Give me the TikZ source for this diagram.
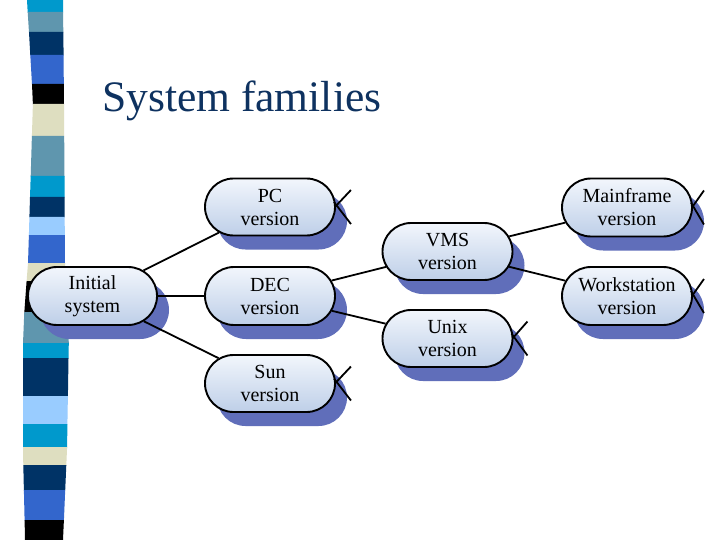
\documentclass[tikz,border=0pt]{standalone}
\usepackage{fontspec}
\setmainfont{Liberation Serif}
\usetikzlibrary{shapes.misc,shadows}
\definecolor{scyan}{RGB}{0,153,204}
\definecolor{ssteel}{RGB}{95,150,174}
\definecolor{snavy}{RGB}{0,51,102}
\definecolor{sroyal}{RGB}{51,102,204}
\definecolor{sbeige}{RGB}{222,222,192}
\definecolor{slight}{RGB}{153,204,255}
\definecolor{titleblue}{RGB}{14,50,96}
\definecolor{shadowblue}{RGB}{96,110,186}
\definecolor{filltop}{RGB}{242,246,252}
\definecolor{fillbot}{RGB}{190,207,232}
\tikzset{
  famnode/.style={rounded rectangle, draw=black, line width=1.9pt,
    minimum width=130pt, minimum height=57pt, inner sep=0pt,
    top color=filltop, bottom color=fillbot, align=center,
    font=\fontsize{20}{23}\selectfont,
    drop shadow={shadow xshift=12pt, shadow yshift=-14pt, fill=shadowblue, opacity=1}},
  link/.style={line width=1.8pt, black},
}
\begin{document}
\begin{tikzpicture}[x=1pt,y=-1pt]
\useasboundingbox (0,0) rectangle (720,540);
\fill[white] (0,0) rectangle (720,540);
% stripe: left/right edge points at boundaries
\def\blk#1#2#3#4#5#6#7{\fill[#1] (#4,#2) -- (#5,#2) -- (#7,#3) -- (#6,#3) -- cycle;}
\blk{scyan}{0}{12.5}{27}{63}{27.7}{63.1}
\blk{ssteel}{12}{32.5}{27.7}{63.1}{29}{63.3}
\blk{snavy}{32}{55.5}{29}{63.3}{30.3}{63.6}
\blk{sroyal}{55}{84.5}{30.3}{63.6}{32}{63.8}
\blk{black}{84}{104.5}{32}{63.8}{32.9}{64}
\blk{sbeige}{104}{136.5}{32.9}{64}{31.9}{64.2}
\blk{ssteel}{136}{176.5}{31.9}{64.2}{30.7}{64.5}
\blk{scyan}{176}{197.5}{30.7}{64.5}{30}{64.6}
\blk{snavy}{197}{217.5}{30}{64.6}{29.4}{64.7}
\blk{slight}{217}{235.5}{29.4}{64.7}{28.9}{64.8}
\blk{sroyal}{235}{263.5}{28.9}{64.8}{28}{65}
\blk{sbeige}{263}{281.5}{28}{65}{26.6}{66}
\blk{black}{281}{312.5}{26.6}{66}{24.3}{67.9}
\blk{ssteel}{312}{343.5}{24.3}{67.9}{23}{68.8}
\blk{scyan}{343}{358.5}{23}{68.8}{23}{68.5}
\blk{snavy}{358}{396.5}{23}{68.5}{23}{67.9}
\blk{slight}{396}{424.5}{23}{67.9}{23}{67.4}
\blk{scyan}{424}{447.5}{23}{67.4}{23}{67.1}
\blk{sbeige}{447}{465.5}{23}{67.1}{23.3}{66.3}
\blk{snavy}{465}{490.5}{23.3}{66.3}{23.9}{65.2}
\blk{sroyal}{490}{520.5}{23.9}{65.2}{24.6}{63.9}
\blk{black}{520}{540}{24.6}{63.9}{25}{63}
% title
\node[anchor=base west, inner sep=0pt, text=titleblue,
      font=\fontsize{43.5}{50}\selectfont] (title) at (102,112) {System families};
% nodes
\node[famnode, minimum width=129pt, minimum height=58pt] (init) at (92.5,296) {Initial\\system};
\node[famnode] (pc) at (270,207) {PC\\version};
\node[famnode, minimum height=58pt] (dec) at (270,296) {DEC\\version};
\node[famnode] (sun) at (270,383.5) {Sun\\version};
\node[famnode] (vms) at (447.5,251.5) {VMS\\version};
\node[famnode] (unix) at (447.5,338.5) {Unix\\version};
\node[famnode, minimum height=58pt] (mf) at (627,207.5) {Mainframe\\version};
\node[famnode, minimum height=58pt] (ws) at (627,296) {Workstation\\version};
% connectors
\draw[link] (init) -- (pc);
\draw[link] (init) -- (dec);
\draw[link] (init) -- (sun);
\draw[link] (dec) -- (vms);
\draw[link] (dec) -- (unix);
\draw[link] (vms) -- (mf);
\draw[link] (vms) -- (ws);
% truncated branches
\foreach \n/\l in {pc/15,sun/15,unix/14,mf/11,ws/11}{
  \draw[link] ([shift={(-1,0)}]\n.east) -- ++(\l+1,-17);
  \draw[link] ([shift={(-2,-5)}]\n.east) -- ++(\l+2,22);
}
\end{tikzpicture}
\end{document}
